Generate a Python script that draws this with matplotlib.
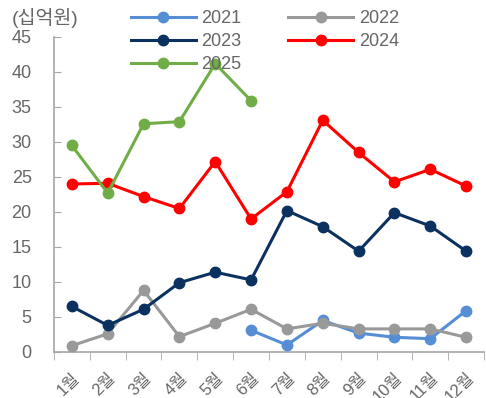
import numpy as np
import matplotlib
matplotlib.use("Agg")
import matplotlib.pyplot as plt

plt.rcParams['font.family'] = ['Liberation Sans', 'Noto Sans CJK KR', 'DejaVu Sans']

months = ['1월', '2월', '3월', '4월', '5월', '6월', '7월', '8월', '9월', '10월', '11월', '12월']

# monthly values, 십억원 (None = no data)
y2021 = [None, None, None, None, None, 3.1, 1.0, 4.5, 2.7, 2.1, 1.9, 5.9]
y2022 = [0.9, 2.6, 8.8, 2.2, 4.1, 6.1, 3.3, 4.1, 3.3, 3.3, 3.3, 2.1]
y2023 = [6.5, 3.8, 6.1, 9.9, 11.4, 10.3, 20.2, 17.9, 14.4, 19.9, 18.0, 14.4]
y2024 = [24.0, 24.1, 22.2, 20.5, 27.2, 19.0, 22.9, 33.1, 28.5, 24.3, 26.1, 23.7]
y2025 = [29.5, 22.7, 32.6, 32.9, 41.2, 35.9]

series = [
    ('2021', y2021, '#558ED5'),
    ('2022', y2022, '#999999'),
    ('2023', y2023, '#0B3160'),
    ('2024', y2024, '#FF0000'),
    ('2025', y2025, '#70AD47'),
]

text_color = '#666666'
axis_color = '#A6A6A6'

fig = plt.figure(figsize=(4.86, 3.98), dpi=100)
ax = fig.add_axes([0.111, 0.1156, 0.885, 0.7915])

x = np.arange(len(months))
handles = {}
for name, vals, color in series:
    v = np.array([np.nan if a is None else a for a in vals], dtype=float)
    line, = ax.plot(x[:len(v)], v, color=color, lw=2.2, marker='o', ms=7.5,
                    label=name, zorder=3)
    handles[name] = line

ax.set_xlim(-0.5, len(months) - 0.5)
ax.set_ylim(0, 45)
ax.set_yticks(np.arange(0, 46, 5))

ax.set_xticks(x)
ax.set_xticklabels(months, rotation=45, ha='right', rotation_mode='anchor',
                   color=text_color, fontsize=12)
ax.set_xticks(np.arange(-0.5, len(months)), minor=True)
ax.tick_params(axis='x', which='major', length=0, pad=13)
ax.tick_params(axis='x', which='minor', length=6, direction='out', color=axis_color)
ax.tick_params(axis='y', direction='in', length=5, color=axis_color,
               labelcolor=text_color, labelsize=13, pad=16)

for s in ['top', 'right']:
    ax.spines[s].set_visible(False)
for s in ['left', 'bottom']:
    ax.spines[s].set_color(axis_color)
    ax.spines[s].set_linewidth(1.2)

fig.text(0.025, 0.955, '(십억원)', color=text_color, fontsize=14,
         va='center', ha='left')

order = ['2021', '2023', '2025', '2022', '2024']
ax.legend([handles[k] for k in order], order, ncol=2, frameon=False,
          loc='upper left', bbox_to_anchor=(0.162, 1.108), fontsize=13,
          handlelength=3.6, handletextpad=0.3, columnspacing=2.6,
          labelspacing=0.33, labelcolor=text_color, borderaxespad=0)

fig.savefig('out.png', dpi=100)
